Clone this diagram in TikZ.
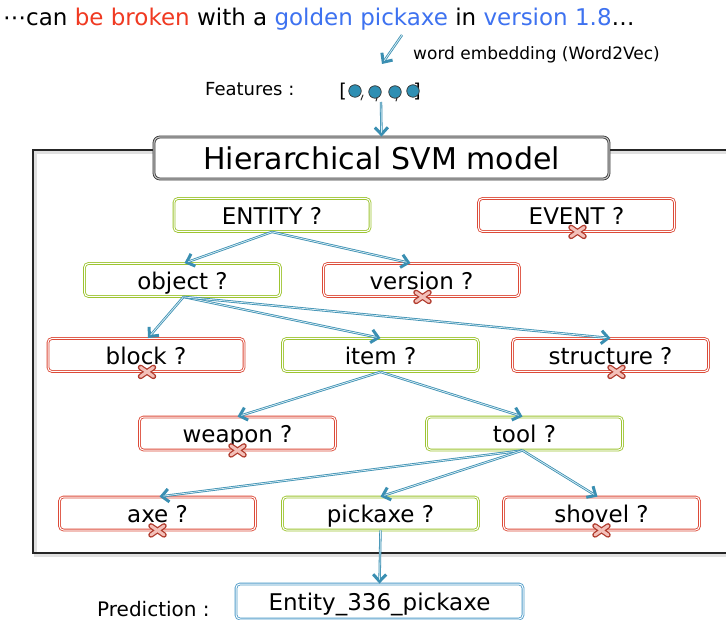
\documentclass[tikz,border=0pt]{standalone}
\usepackage{fontspec}
\setmainfont{DejaVu Sans}
\usetikzlibrary{arrows.meta}
\definecolor{boxgreen}{HTML}{9DC431}
\definecolor{boxred}{HTML}{DC4A38}
\definecolor{arrteal}{HTML}{3A8FB2}
\definecolor{arrlight}{HTML}{D8ECF3}
\definecolor{predblue}{HTML}{4F9CC9}
\definecolor{txtred}{HTML}{F03A22}
\definecolor{txtblue}{HTML}{3E72F0}
\definecolor{dotteal}{HTML}{2F8FB3}
\tikzset{
 qbox/.style={rectangle, rounded corners=4pt, line width=0.85pt, double=white, double distance=1pt, minimum width=196pt, minimum height=33pt, inner sep=0pt, font=\fontsize{23}{26}\selectfont, text height=18.5pt, text depth=0pt, fill=white},
 gbox/.style={qbox, draw=boxgreen},
 rbox/.style={qbox, draw=boxred},
 conn/.style={draw=arrteal, line width=2.4pt, -{Straight Barb[length=7pt,width=13pt,line width=3pt]},
   postaction={draw=arrlight, line width=0.8pt, -, shorten >=4pt}},
 xmark/.pic={\draw[line width=5.5pt, boxred!80!black, line cap=round] (-6.5,-4.5)--(6.5,4.5) (-6.5,4.5)--(6.5,-4.5);
             \draw[line width=3pt, boxred!35, line cap=round] (-6.5,-4.5)--(6.5,4.5) (-6.5,4.5)--(6.5,-4.5);},
 dot/.style={circle, fill=dotteal, draw=black!80, line width=0.7pt, minimum size=12.5pt, inner sep=0pt}
}
\begin{document}
\begin{tikzpicture}[x=1pt,y=-1pt]
\useasboundingbox (0,0) rectangle (726,620);
\path[fill=white] (0,0) rectangle (726,620);
% top sentence
\node[anchor=base west, inner sep=0pt, font=\fontsize{23}{26}\selectfont] (sent) at (3,26)
 {⋯can \textcolor{txtred}{be broken} with a \textcolor{txtblue}{golden pickaxe} in \textcolor{txtblue}{version 1.8}…};
\coordinate (wa) at (402,35);
\coordinate (wb) at (382,64);
\draw[conn] (wa) -- (wb);
\node[anchor=base west, inner sep=0pt, font=\fontsize{17}{20}\selectfont] (emb) at (413,60) {word embedding (Word2Vec)};
% features
\node[anchor=base west, inner sep=0pt, font=\fontsize{18}{21}\selectfont] (feat) at (205,96) {Features :};
\node[anchor=base, inner sep=0pt, font=\fontsize{19}{21}\selectfont] (lb) at (343,98) {[};
\node[anchor=base, inner sep=0pt, font=\fontsize{19}{21}\selectfont] (rb) at (417,98) {]};
\node[dot] (d1) at (355,91) {};
\node[dot] (d2) at (375,92) {};
\node[dot] (d3) at (395,92) {};
\node[dot] (d4) at (413,91) {};
\draw[black!85, line width=1pt, line cap=round] (363,95) -- (361,100) (377,98) -- (376,101) (397,98) -- (396,101);
\coordinate (vb) at (381,102);
% frame
\draw[line width=3pt, black!12] (730,152.5) -- (35,152.5) -- (35,555.5) -- (730,555.5);
\draw[line width=1.5pt, black!85] (730,150) -- (33,150) -- (33,553) -- (730,553);
\node[draw=black!80, line width=0.8pt, double=black!25, double distance=1.2pt, rounded corners=6pt, fill=white,
      minimum width=455pt, minimum height=42pt, inner sep=0pt, text height=23pt, text depth=0pt,
      font=\fontsize{30}{34}\selectfont] (title) at (381.5,158) {Hierarchical SVM model};
\draw[conn] (vb) -- (title.north);
% tree
\node[gbox] (ent) at (272,215) {ENTITY ?};
\node[rbox] (evt) at (576.5,215) {EVENT ?};
\node[gbox] (obj) at (182.5,280) {object ?};
\node[rbox] (ver) at (421.5,280) {version ?};
\node[rbox] (blk) at (146,355) {block ?};
\node[gbox] (itm) at (380.5,355) {item ?};
\node[rbox] (str) at (610.5,355) {structure ?};
\node[rbox] (wpn) at (237.5,433.5) {weapon ?};
\node[gbox] (tool) at (524.5,433.5) {tool ?};
\node[rbox] (axe) at (157.5,513.5) {axe ?};
\node[gbox] (pick) at (380.5,513.5) {pickaxe ?};
\node[rbox] (shov) at (601.5,513.5) {shovel ?};
% prediction
\node[anchor=base west, inner sep=0pt, font=\fontsize{20}{23}\selectfont] (predl) at (97,616) {Prediction :};
\node[qbox, draw=predblue, minimum width=287pt, minimum height=35pt] (pred) at (379.5,601.5) {Entity\_336\_pickaxe};
% connectors
\draw[conn] (ent.south) -- ([xshift=2pt]obj.north);
\draw[conn] (ent.south) -- ([xshift=-11pt]ver.north);
\draw[conn] ([xshift=1pt]obj.south) -- ([xshift=2pt]blk.north);
\draw[conn] ([xshift=1pt]obj.south) -- (itm.north);
\draw[conn] ([xshift=1pt]obj.south) -- (str.north);
\draw[conn] (itm.south) -- (wpn.north);
\draw[conn] (itm.south) -- ([xshift=-2pt]tool.north);
\draw[conn] ([xshift=-2pt]tool.south) -- ([xshift=2pt]axe.north);
\draw[conn] ([xshift=-2pt]tool.south) -- (pick.north);
\draw[conn] ([xshift=-2pt]tool.south) -- ([xshift=-4pt]shov.north);
\draw[conn] (pick.south) -- (pred.north);
% crosses
\pic at ([xshift=1pt]evt.south) {xmark};
\pic at ([xshift=1pt]ver.south) {xmark};
\pic at ([xshift=1pt]blk.south) {xmark};
\pic at ([xshift=6pt]str.south) {xmark};
\pic at (wpn.south) {xmark};
\pic at (axe.south) {xmark};
\pic at (shov.south) {xmark};
\end{tikzpicture}
\end{document}
